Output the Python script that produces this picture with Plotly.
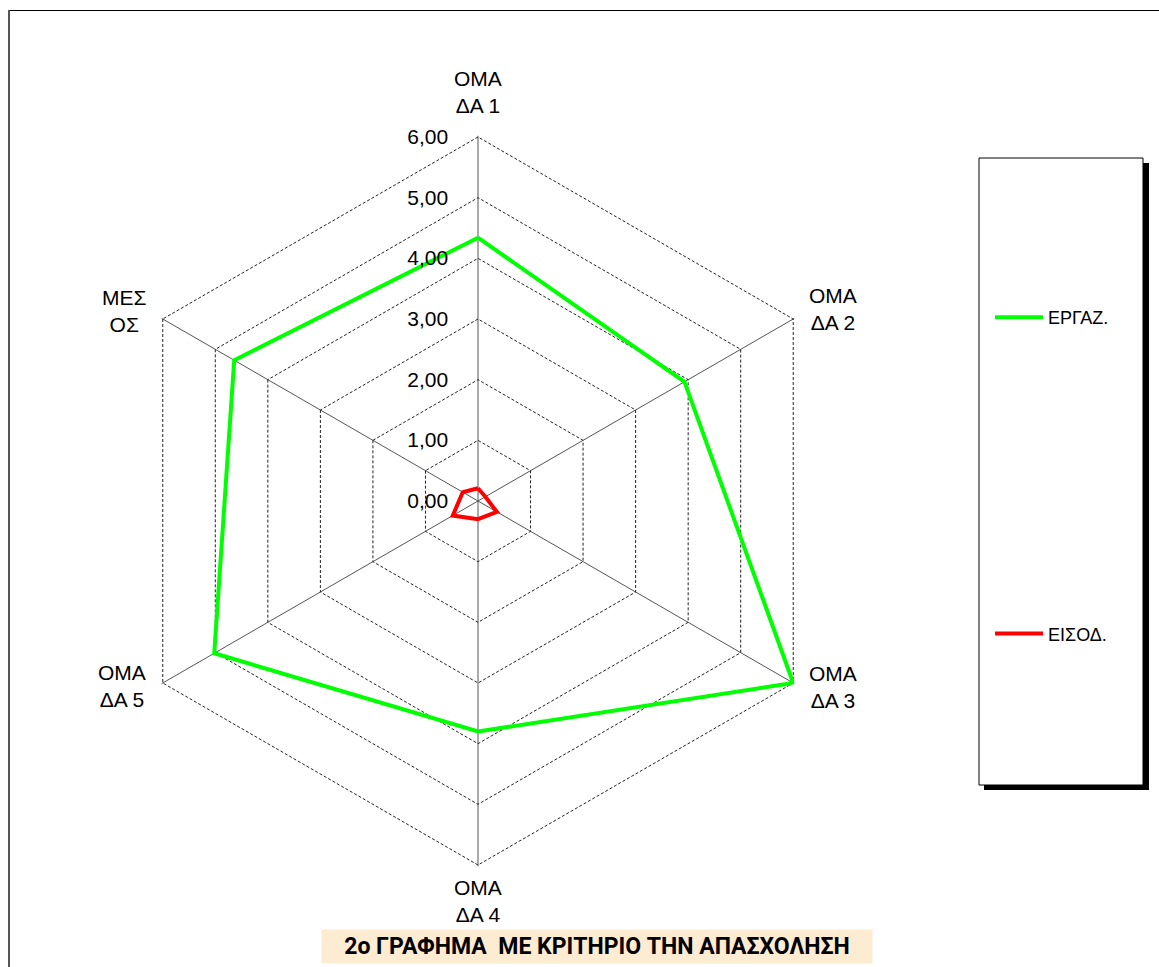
import math
import plotly.graph_objects as go

# Radar chart: two series over six groups
categories = ["ΟΜΑΔΑ 1", "ΟΜΑΔΑ 2", "ΟΜΑΔΑ 3", "ΟΜΑΔΑ 4", "ΟΜΑΔΑ 5", "ΜΕΣΟΣ"]
category_labels = ["ΟΜΑ<br>ΔΑ 1", "ΟΜΑ<br>ΔΑ 2", "ΟΜΑ<br>ΔΑ 3", "ΟΜΑ<br>ΔΑ 4", "ΟΜΑ<br>ΔΑ 5", "ΜΕΣ<br>ΟΣ"]
ergaz = [4.34, 3.93, 6.00, 3.80, 5.02, 4.64]
eisod = [0.21, 0.14, 0.36, 0.30, 0.48, 0.29]
radial_ticks = [0, 1, 2, 3, 4, 5, 6]

W, H = 1159, 967
FONT = "Arial, Liberation Sans, sans-serif"
RMAX = 6.02  # a hair above the last tick so its dashed ring is drawn
PX_PER_UNIT = 364 / 6


def closed(vals):
    return list(vals) + [vals[0]]


fig = go.Figure()
fig.add_trace(go.Scatterpolar(
    r=closed(ergaz), theta=closed(categories), mode="lines",
    name="ΕΡΓΑΖ.", legendgroup="a",
    line=dict(color="#00ff00", width=4),
))
fig.add_trace(go.Scatterpolar(
    r=closed(eisod), theta=closed(categories), mode="lines",
    name="ΕΙΣΟΔ.", legendgroup="b",
    line=dict(color="#ff0000", width=4),
))

# polar area: centre (478, 501), value 6 at ~364 px
cx, cy = 478, 501
R = PX_PER_UNIT * RMAX
fig.update_layout(
    width=W, height=H,
    margin=dict(l=0, r=0, t=0, b=0),
    paper_bgcolor="white", plot_bgcolor="white",
    separators=",.",
    font=dict(family=FONT, size=16, color="black"),
    polar=dict(
        domain=dict(x=[(cx - R) / W, (cx + R) / W], y=[1 - (cy + R) / H, 1 - (cy - R) / H]),
        bgcolor="white",
        gridshape="linear",
        angularaxis=dict(
            type="category",
            categoryarray=categories,
            rotation=90, direction="clockwise",
            showline=False, showticklabels=False, ticks="",
            gridcolor="#555555", gridwidth=1,
        ),
        radialaxis=dict(
            range=[0, RMAX], angle=90, side="counterclockwise",
            tickmode="array", tickvals=radial_ticks, tickformat=".2f",
            showline=False,
            ticks="outside", ticklen=22, tickcolor="rgba(0,0,0,0)",
            gridcolor="#222222", gridwidth=1, griddash="3px,2px",
            tickfont=dict(family=FONT, size=21, color="black"),
            tickangle=90,
        ),
    ),
    legend=dict(
        x=990 / W, y=1 - 299 / H, xanchor="left", yanchor="top",
        bgcolor="rgba(0,0,0,0)", borderwidth=0,
        font=dict(family=FONT, size=18, color="black"),
        traceorder="grouped", tracegroupgap=290,
        itemwidth=48,
    ),
    showlegend=True,
)

# category labels beside each outer vertex (offsets in px from the vertex)
label_offsets = [(0, -45), (14, -10), (14, 4), (0, 36), (-15, 3), (-14, -8)]
label_xanchor = ["center", "left", "left", "center", "right", "right"]
r_outer = PX_PER_UNIT * radial_ticks[-1]
for i, (lab, (ox, oy), xa) in enumerate(zip(category_labels, label_offsets, label_xanchor)):
    ang = math.radians(90 - 360 * i / len(categories))
    vx = cx + r_outer * math.cos(ang)
    vy = cy - r_outer * math.sin(ang)
    fig.add_annotation(
        text=lab, xref="paper", yref="paper",
        x=(vx + ox) / W, y=1 - (vy + oy) / H,
        xanchor=xa, yanchor="middle", align="center", showarrow=False,
        font=dict(family=FONT, size=21, color="black"),
    )

# legend frame with drop shadow
shapes = [
    dict(type="rect", xref="paper", yref="paper",
         x0=984 / W, x1=1149 / W, y0=1 - 790 / H, y1=1 - 163 / H,
         fillcolor="black", line=dict(width=0), layer="below"),
    dict(type="rect", xref="paper", yref="paper",
         x0=979 / W, x1=1143 / W, y0=1 - 785 / H, y1=1 - 158 / H,
         fillcolor="white", line=dict(color="black", width=1), layer="below"),
    # outer chart frame (top and left edges)
    dict(type="line", xref="paper", yref="paper",
         x0=8 / W, x1=1.0, y0=1 - 10.5 / H, y1=1 - 10.5 / H,
         line=dict(color="black", width=1)),
    dict(type="line", xref="paper", yref="paper",
         x0=9 / W, x1=9 / W, y0=0, y1=1 - 10 / H,
         line=dict(color="#555555", width=2)),
]
fig.update_layout(shapes=shapes)

fig.add_annotation(
    text="<b>2o ΓΡΑΦΗΜΑ  ΜΕ ΚΡΙΤΗΡΙΟ ΤΗΝ ΑΠΑΣΧΟΛΗΣΗ</b>",
    xref="paper", yref="paper", x=597 / W, y=1 - 946 / H,
    xanchor="center", yanchor="middle", showarrow=False,
    font=dict(family="Roboto, Liberation Sans, Arial, sans-serif", size=23, color="black", weight="bold"),
    bgcolor="#fdebd2", width=550, height=33, borderpad=0,
)

fig.write_html("out.html")
